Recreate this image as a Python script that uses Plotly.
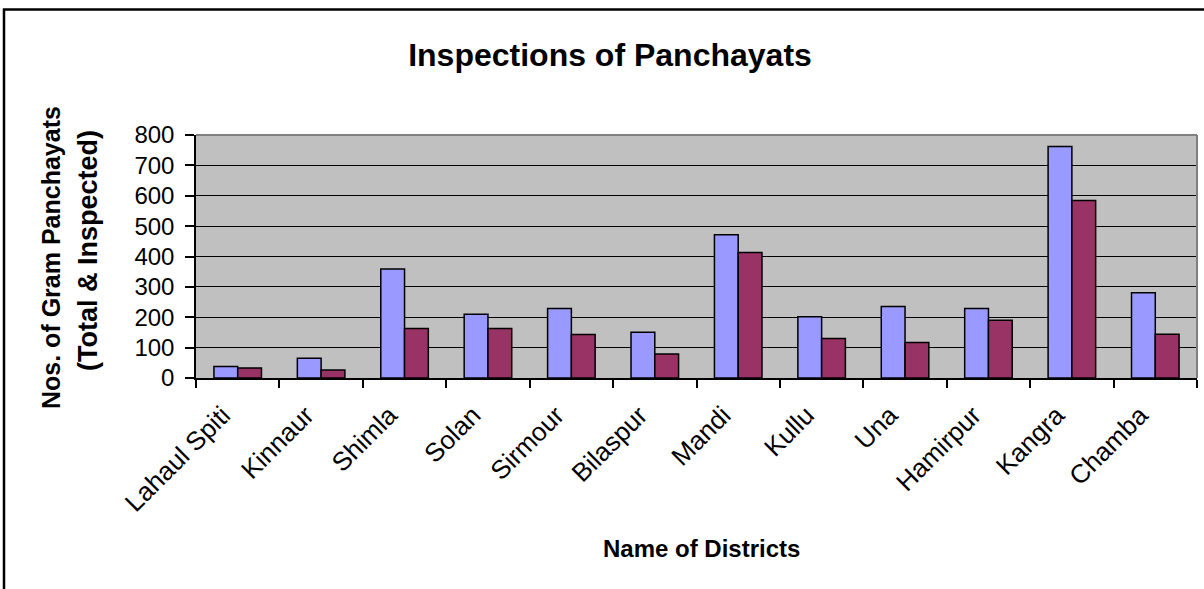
import plotly.graph_objects as go

districts = ["Lahaul Spiti", "Kinnaur", "Shimla", "Solan", "Sirmour", "Bilaspur",
             "Mandi", "Kullu", "Una", "Hamirpur", "Kangra", "Chamba"]
total = [38, 65, 359, 210, 229, 151, 472, 202, 235, 229, 762, 281]
inspected = [33, 26, 163, 163, 143, 79, 413, 130, 117, 190, 584, 144]
y_ticks = [0, 100, 200, 300, 400, 500, 600, 700, 800]

FONT = "Liberation Sans, Arial, sans-serif"

fig = go.Figure()
fig.add_trace(go.Bar(name="Total", x=districts, y=total,
                     marker=dict(color="#9999FF", line=dict(color="black", width=1.5))))
fig.add_trace(go.Bar(name="Inspected", x=districts, y=inspected,
                     marker=dict(color="#993366", line=dict(color="black", width=1.5))))

fig.update_layout(
    width=1204, height=589,
    margin=dict(l=196, r=7, t=135, b=211),
    paper_bgcolor="white", plot_bgcolor="#C0C0C0",
    barmode="group", bargap=0.43, bargroupgap=0,
    showlegend=False,
    font=dict(family=FONT, color="black"),
    title=dict(text="<b>Inspections of Panchayats</b>", font=dict(size=32, family=FONT, color="black"),
               x=610 / 1204, xref="container", xanchor="center",
               y=1 - 55 / 589, yref="container", yanchor="middle"),
)

fig.update_xaxes(
    type="category", tickangle=-45, tickfont=dict(size=26, family=FONT, color="black"),
    tickson="boundaries", ticks="outside", ticklen=8, tickwidth=1.5, tickcolor="black",
    ticklabelshift=-15, ticklabelstandoff=10,
    showline=True, linecolor="black", linewidth=1.5, showgrid=False,
)
fig.update_yaxes(
    range=[0, 800], tickvals=y_ticks, ticktext=[str(v) for v in y_ticks],
    tickfont=dict(size=24, family=FONT, color="black"),
    ticks="outside", ticklen=9, tickwidth=1.5, tickcolor="black", ticklabelstandoff=6,
    showline=True, linecolor="black", linewidth=1.5,
    showgrid=True, gridcolor="black", gridwidth=1.3, zeroline=False,
)

# gray top/right plot border
fig.add_shape(type="line", xref="paper", yref="paper", x0=0, x1=1, y0=1, y1=1,
              line=dict(color="#808080", width=2))
fig.add_shape(type="line", xref="paper", yref="paper", x0=1, x1=1, y0=0, y1=1,
              line=dict(color="#808080", width=2))
# outer chart border (top and left visible)
fig.add_shape(type="rect", xref="paper", yref="paper",
              x0=(4 - 196) / 1001, x1=1.2, y0=-1.5, y1=(378.3 - 9) / 243.6,
              line=dict(color="black", width=2.5), layer="above")

# axis titles
fig.add_annotation(text="<b>Name of Districts</b>", xref="paper", yref="paper",
                   x=(701 - 196) / 1001, y=(378.3 - 549) / 243.6, showarrow=False,
                   xanchor="center", yanchor="middle", font=dict(size=24, family=FONT, color="black"))
fig.add_annotation(text="<b>Nos. of Gram Panchayats</b>", xref="paper", yref="paper",
                   x=(51 - 196) / 1001, y=(378.3 - 258) / 243.6, showarrow=False, textangle=-90,
                   xanchor="center", yanchor="middle", font=dict(size=25, family=FONT, color="black"))
fig.add_annotation(text="<b>(Total & Inspected)</b>", xref="paper", yref="paper",
                   x=(88 - 196) / 1001, y=(378.3 - 251) / 243.6, showarrow=False, textangle=-90,
                   xanchor="center", yanchor="middle", font=dict(size=27, family=FONT, color="black"))

fig.write_html("out.html", config={"displayModeBar": False},
               post_script="document.body.style.margin='0';")
